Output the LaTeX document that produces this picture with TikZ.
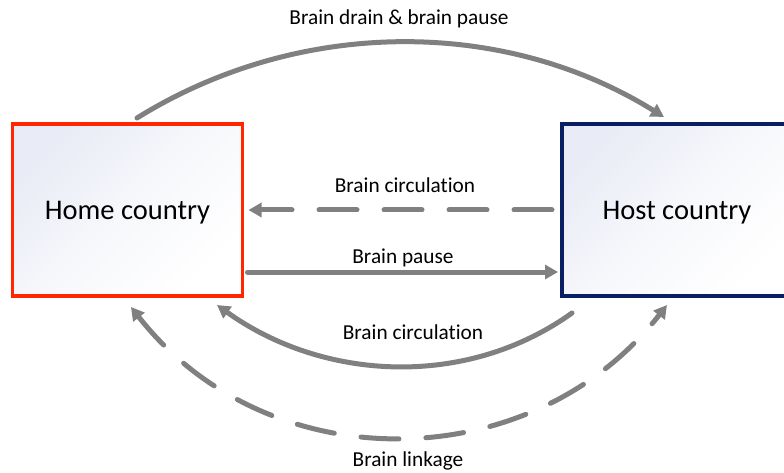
\documentclass[tikz,border=0pt]{standalone}
\usepackage{fontspec}
\setmainfont{Carlito}[Ligatures=NoCommon]
\usetikzlibrary{arrows.meta,shadings}
\definecolor{homered}{RGB}{255,38,0}
\definecolor{hostblue}{RGB}{10,30,100}
\definecolor{arrgray}{RGB}{128,128,128}
\definecolor{fillA}{RGB}{233,235,246}
\definecolor{fillM}{RGB}{247,248,251}
\definecolor{fillB}{RGB}{255,255,255}
\begin{document}
\begin{tikzpicture}[x=1pt,y=-1pt,
  country/.style={rectangle, minimum width=230pt, minimum height=172pt,
    inner sep=0pt, outer sep=0pt, line width=3.5pt,
    top color=fillA, bottom color=fillB, middle color=fillM, shading angle=45,
    font=\fontsize{28.5}{30}\selectfont, text depth=0pt},
  lbl/.style={font=\fontsize{21.3}{24}\selectfont, anchor=base, inner sep=0pt},
  conn/.style={draw=arrgray, line width=5pt, line cap=round},
  dashconn/.style={dash pattern=on 38pt off 27pt},
  arrowend/.style={-{Triangle[length=13pt,width=14pt]}},
  arrowboth/.style={{Triangle[length=13pt,width=14pt]}-{Triangle[length=13pt,width=14pt]}}
]
\useasboundingbox (0,0) rectangle (784,473);

\node[country, draw=homered] (home) at (127.5,210) {Home country};
\node[country, draw=hostblue] (host) at (677,210) {Host country};

% top arc
\draw[conn, arrowend] ([xshift=9.5pt,yshift=6pt]home.north)
  .. controls +(161,-100) and +(-161,-100) .. ([xshift=-13pt,yshift=7pt]host.north);

% middle dashed
\draw[conn, dashconn, arrowend] ([xshift=-10pt]host.west) -- ([xshift=6pt]home.east);

% brain pause
\draw[conn, arrowend] ([xshift=5pt,yshift=-62pt]home.east) -- ([xshift=-4pt,yshift=-62pt]host.west);

% lower solid arc
\draw[conn, arrowend] ([xshift=10pt,yshift=-17pt]host.south west)
  .. controls +(-106,76) and +(106,76) .. ([xshift=-25.5pt,yshift=-9pt]home.south east);

% outer dashed arc
\draw[conn, dashconn, arrowboth] ([xshift=3.5pt,yshift=-11pt]home.south)
  .. controls +(136,174) and +(-136,174) .. ([xshift=-10pt,yshift=-9pt]host.south);

\node[lbl] (l1) at (399,25) {Brain drain \& brain pause};
\node[lbl] (l2) at (405,193) {Brain circulation};
\node[lbl] (l3) at (403,263) {Brain pause};
\node[lbl] (l4) at (413,339) {Brain circulation};
\node[lbl] (l5) at (408,466) {Brain linkage};
\end{tikzpicture}
\end{document}
